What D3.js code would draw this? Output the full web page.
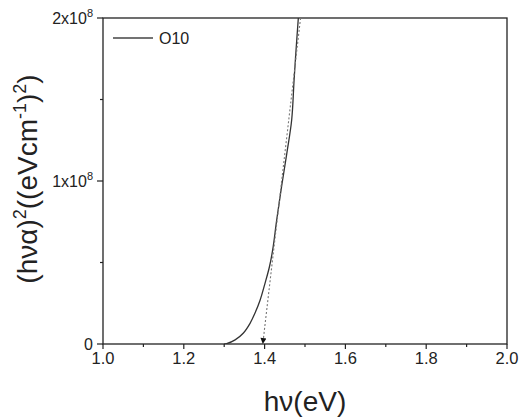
<!DOCTYPE html>
<html>
<head>
<meta charset="utf-8">
<script src="https://cdn.jsdelivr.net/npm/d3@7"></script>
<style>
  body { margin: 0; background: #fff; }
  svg { display: block; font-family: Arial, "Liberation Sans", sans-serif; }
</style>
</head>
<body>
<div id="chart"></div>
<script>
// measured curve, (h nu alpha)^2 vs photon energy
const hv   = [1.300, 1.306, 1.327, 1.347, 1.364, 1.376, 1.389, 1.401, 1.412, 1.420, 1.430, 1.442, 1.455, 1.467, 1.473, 1.478, 1.4835];
const ahv2 = [0, 0.002e8, 0.025e8, 0.066e8, 0.127e8, 0.188e8, 0.27e8, 0.372e8, 0.474e8, 0.577e8, 0.761e8, 0.965e8, 1.17e8, 1.374e8, 1.62e8, 1.81e8, 2.0e8];

// linear extrapolation to the band gap
const fitHv = [1.489, 1.3955];
const fitY  = [2.0e8, 0];

const xTicks = [1.0, 1.2, 1.4, 1.6, 1.8, 2.0];
const xMinor = [1.1, 1.3, 1.5, 1.7, 1.9];
const yTicks = [0, 1e8, 2e8];
const yTickLabels = [["0", ""], ["1x10", "8"], ["2x10", "8"]];
const yMinor = [0.5e8, 1.5e8];
const seriesName = "O10";

const width = 520, height = 418;
const plot = { left: 103, right: 507, top: 18, bottom: 344 };

const svg = d3.select("#chart").append("svg")
  .attr("width", width)
  .attr("height", height);

const x = d3.scaleLinear().domain([1.0, 2.0]).range([plot.left, plot.right]);
const y = d3.scaleLinear().domain([0, 2e8]).range([plot.bottom, plot.top]);

const defs = svg.append("defs");
defs.append("clipPath").attr("id", "clip")
  .append("rect")
  .attr("x", plot.left).attr("y", plot.top)
  .attr("width", plot.right - plot.left).attr("height", plot.bottom - plot.top);

defs.append("marker")
  .attr("id", "arrow")
  .attr("markerUnits", "userSpaceOnUse")
  .attr("viewBox", "0 0 10 10")
  .attr("refX", 10).attr("refY", 5)
  .attr("markerWidth", 8).attr("markerHeight", 6)
  .attr("orient", "auto")
  .append("path")
  .attr("d", "M0,0L10,5L0,10Z")
  .attr("fill", "#111");

// frame
svg.append("rect")
  .attr("x", plot.left).attr("y", plot.top)
  .attr("width", plot.right - plot.left).attr("height", plot.bottom - plot.top)
  .attr("fill", "none").attr("stroke", "#222").attr("stroke-width", 1.3);

// x axis
const xAxis = svg.append("g").attr("transform", `translate(0,${plot.bottom})`);
xAxis.selectAll(".maj").data(xTicks).join("line")
  .attr("x1", d => x(d)).attr("x2", d => x(d))
  .attr("y1", 0).attr("y2", 5)
  .attr("stroke", "#222").attr("stroke-width", 1.2);
xAxis.selectAll(".min").data(xMinor).join("line")
  .attr("x1", d => x(d)).attr("x2", d => x(d))
  .attr("y1", 0).attr("y2", 3)
  .attr("stroke", "#222").attr("stroke-width", 1.2);
xAxis.selectAll("text").data(xTicks).join("text")
  .attr("x", d => x(d)).attr("y", 20)
  .attr("text-anchor", "middle")
  .attr("font-size", 16.5).attr("fill", "#222")
  .text(d => d.toFixed(1));

// y axis
const yAxis = svg.append("g").attr("transform", `translate(${plot.left},0)`);
yAxis.selectAll(".maj").data(yTicks).join("line")
  .attr("x1", 0).attr("x2", -6)
  .attr("y1", d => y(d)).attr("y2", d => y(d))
  .attr("stroke", "#222").attr("stroke-width", 1.2);
yAxis.selectAll(".min").data(yMinor).join("line")
  .attr("x1", 0).attr("x2", -3)
  .attr("y1", d => y(d)).attr("y2", d => y(d))
  .attr("stroke", "#222").attr("stroke-width", 1.2);
const yLab = yAxis.selectAll("text").data(yTicks).join("text")
  .attr("x", -10).attr("y", d => y(d) + 6)
  .attr("text-anchor", "end")
  .attr("font-size", 16).attr("fill", "#222");
yLab.append("tspan").text((d, i) => yTickLabels[i][0]);
yLab.append("tspan").attr("dy", -7).attr("font-size", 11).text((d, i) => yTickLabels[i][1]);

// axis titles
svg.append("text")
  .attr("x", (plot.left + plot.right) / 2).attr("y", 411)
  .attr("text-anchor", "middle")
  .attr("font-size", 28).attr("fill", "#222")
  .text("hν(eV)");

const yt = svg.append("text")
  .attr("transform", `translate(37,${179}) rotate(-90)`)
  .attr("text-anchor", "middle")
  .attr("font-size", 28).attr("fill", "#222");
yt.append("tspan").text("(hνα)");
yt.append("tspan").attr("dy", -11).attr("font-size", 18).text("2");
yt.append("tspan").attr("dy", 11).text("((eVcm");
yt.append("tspan").attr("dy", -11).attr("font-size", 18).text("-1");
yt.append("tspan").attr("dy", 11).text(")");
yt.append("tspan").attr("dy", -11).attr("font-size", 18).text("2");
yt.append("tspan").attr("dy", 11).text(")");

// data
const g = svg.append("g").attr("clip-path", "url(#clip)");

const line = d3.line().x(d => x(d[0])).y(d => y(d[1])).curve(d3.curveCatmullRom);

g.append("path")
  .datum(d3.zip(hv, ahv2))
  .attr("d", line)
  .attr("fill", "none")
  .attr("stroke", "#333")
  .attr("stroke-width", 1.3);

svg.append("path")
  .datum(d3.zip(fitHv, fitY))
  .attr("d", d3.line().x(d => x(d[0])).y(d => y(d[1])))
  .attr("fill", "none")
  .attr("stroke", "#777")
  .attr("stroke-width", 1.1)
  .attr("stroke-dasharray", "2,2")
  .attr("marker-end", "url(#arrow)");

// legend
svg.append("line")
  .attr("x1", 113).attr("x2", 153)
  .attr("y1", 38).attr("y2", 38)
  .attr("stroke", "#444").attr("stroke-width", 1.3);
svg.append("text")
  .attr("x", 159).attr("y", 44)
  .attr("font-size", 16).attr("fill", "#222")
  .text(seriesName);
</script>
</body>
</html>
